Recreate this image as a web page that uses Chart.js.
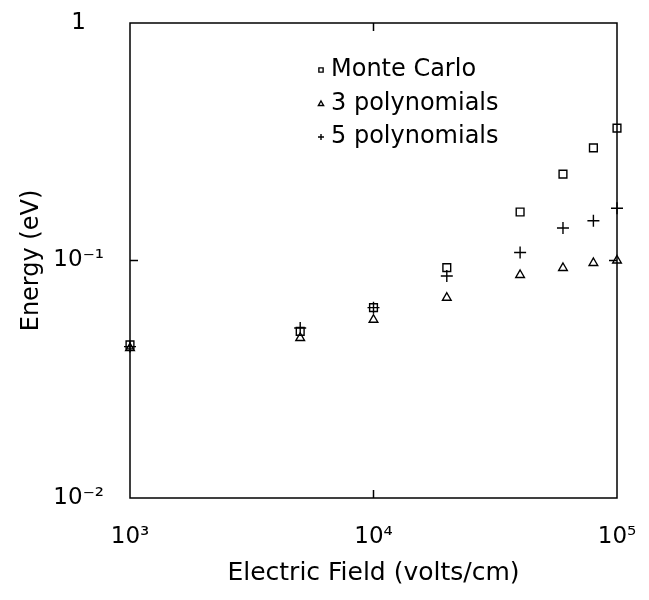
<!DOCTYPE html>
<html>
<head>
<meta charset="utf-8">
<script src="https://cdn.jsdelivr.net/npm/chart.js@4/dist/chart.umd.min.js"></script>
<style>
  body { margin: 0; background: #fff; }
  canvas { display: block; }
</style>
</head>
<body>
<canvas id="energyChart" width="649" height="600"></canvas>
<script>
// electric field (volts/cm) at which each method was evaluated
const fieldValues = [1000, 5000, 10000, 20000, 40000, 60000, 80000, 100000];
// mean energy (eV)
const monteCarlo = [0.0441, 0.0503, 0.0633, 0.0933, 0.160, 0.231, 0.298, 0.361];
const poly3 = [0.0428, 0.0472, 0.0563, 0.0697, 0.0869, 0.0930, 0.0976, 0.100];
const poly5 = [0.0434, 0.0520, 0.0633, 0.0860, 0.108, 0.137, 0.147, 0.166];

const xTicks = [1e3, 1e4, 1e5];
const yTicks = [0.01, 0.1, 1];
const xTickLabels = ['10³', '10⁴', '10⁵'];
const yTickLabels = ['10⁻²', '10⁻¹', '1'];

const FONT = 'DejaVu Sans';
const toPoints = ys => fieldValues.map((x, i) => ({ x: x, y: ys[i] }));

// box round the plot + inward ticks at the decades
const frame = {
  id: 'frame',
  afterDraw(chart) {
    const { ctx, chartArea: a } = chart;
    const xs = chart.scales.x, ys = chart.scales.y;
    ctx.save();
    ctx.strokeStyle = '#000';
    ctx.lineWidth = 1.5;
    ctx.strokeRect(a.left, a.top, a.right - a.left, a.bottom - a.top);
    ctx.beginPath();
    xTicks.slice(1, -1).forEach(v => {
      const px = xs.getPixelForValue(v);
      ctx.moveTo(px, a.bottom); ctx.lineTo(px, a.bottom - 8);
      ctx.moveTo(px, a.top); ctx.lineTo(px, a.top + 8);
    });
    yTicks.slice(1, -1).forEach(v => {
      const py = ys.getPixelForValue(v);
      ctx.moveTo(a.left, py); ctx.lineTo(a.left + 8, py);
      ctx.moveTo(a.right, py); ctx.lineTo(a.right - 8, py);
    });
    ctx.stroke();
    ctx.restore();
  }
};

// legend drawn inside the plot, small symbol before each label
const innerLegend = {
  id: 'innerLegend',
  afterDraw(chart) {
    const ctx = chart.ctx;
    const rows = [70, 104, 137];
    ctx.save();
    ctx.font = '24px "' + FONT + '"';
    ctx.textBaseline = 'middle';
    chart.data.datasets.forEach((ds, i) => {
      ctx.strokeStyle = '#000';
      ctx.fillStyle = 'rgba(0,0,0,0)';
      Chart.helpers.drawPoint(ctx, {
        pointStyle: ds.pointStyle, radius: 3, rotation: 0, borderWidth: 1
      }, 321, rows[i]);
      ctx.fillStyle = '#000';
      ctx.fillText(ds.label, 331, rows[i]);
    });
    ctx.restore();
  }
};

new Chart(document.getElementById('energyChart'), {
  type: 'scatter',
  data: {
    datasets: [
      {
        label: 'Monte Carlo',
        data: toPoints(monteCarlo),
        pointStyle: 'rect',
        pointRadius: 5.5,
        borderColor: '#000',
        backgroundColor: 'rgba(0,0,0,0)',
        borderWidth: 1.4,
        clip: false
      },
      {
        label: '3 polynomials',
        data: toPoints(poly3),
        pointStyle: 'triangle',
        pointRadius: 5,
        borderColor: '#000',
        backgroundColor: 'rgba(0,0,0,0)',
        borderWidth: 1.4,
        clip: false
      },
      {
        label: '5 polynomials',
        data: toPoints(poly5),
        pointStyle: 'cross',
        pointRadius: 6,
        borderColor: '#000',
        backgroundColor: 'rgba(0,0,0,0)',
        borderWidth: 1.4,
        clip: false
      }
    ]
  },
  options: {
    responsive: false,
    animation: false,
    layout: { padding: { top: 23, right: 32, left: 0, bottom: 0 } },
    plugins: { legend: { display: false }, tooltip: { enabled: false } },
    scales: {
      x: {
        type: 'logarithmic',
        min: 1e3,
        max: 1e5,
        afterFit: s => { s.height = 102; s.paddingLeft = 0; s.paddingRight = 0; },
        afterBuildTicks: s => { s.ticks = xTicks.map(v => ({ value: v })); },
        grid: { display: false, drawTicks: false },
        border: { display: false },
        ticks: {
          padding: 25,
          maxRotation: 0,
          autoSkip: false,
          color: '#000',
          font: { family: FONT, size: 23 },
          callback: v => xTickLabels[xTicks.indexOf(v)]
        },
        title: {
          display: true,
          text: 'Electric Field (volts/cm)',
          color: '#000',
          font: { family: FONT, size: 25 },
          padding: { top: 0, bottom: 12 }
        }
      },
      y: {
        type: 'logarithmic',
        min: 0.01,
        max: 1,
        afterFit: s => { s.width = 130; s.paddingTop = 0; s.paddingBottom = 0; },
        afterBuildTicks: s => { s.ticks = yTicks.map(v => ({ value: v })); },
        grid: { display: false, drawTicks: false },
        border: { display: false },
        ticks: {
          padding: 26,
          crossAlign: 'center',
          autoSkip: false,
          color: '#000',
          font: { family: FONT, size: 23 },
          callback: v => yTickLabels[yTicks.indexOf(v)]
        },
        title: {
          display: true,
          text: 'Energy (eV)',
          color: '#000',
          font: { family: FONT, size: 24 },
          padding: { top: 17, bottom: 0 }
        }
      }
    }
  },
  plugins: [frame, innerLegend]
});
</script>
</body>
</html>
